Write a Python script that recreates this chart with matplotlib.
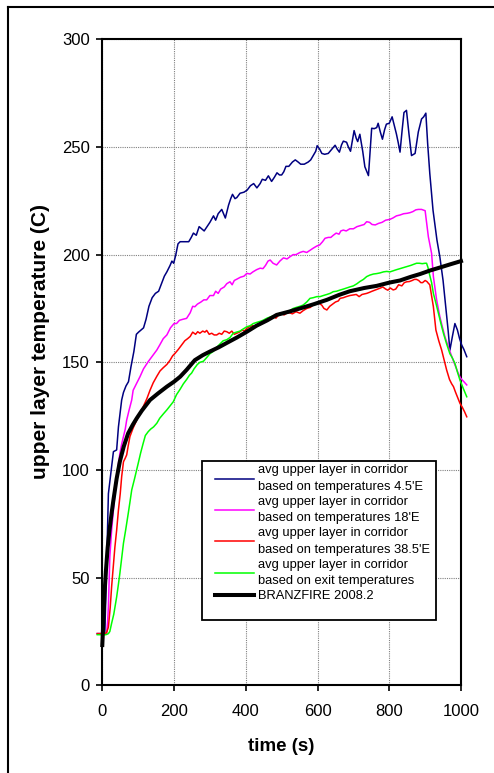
import matplotlib
matplotlib.use("Agg")
import matplotlib.pyplot as plt
from matplotlib.lines import Line2D
from matplotlib.patches import Rectangle

plt.rcParams['font.family'] = ['Liberation Sans', 'DejaVu Sans']

# Upper layer temperature in corridor, probe 4.5'E
t_45 = [-14, 7, 12, 17, 22, 26, 31, 40, 45, 54, 59, 66, 73, 80, 88, 95, 101, 108, 115, 122,
        130, 139, 148, 157, 166, 173, 180, 189, 194, 199, 205, 211, 217, 230, 241, 248, 254, 262,
        270, 277, 284, 292, 300, 310, 316, 323, 333, 338, 343, 352, 358, 363, 370, 375, 384, 395,
        404, 413, 422, 431, 440, 446, 455, 463, 472, 480, 487, 494, 500, 506, 512, 520, 530, 538,
        546, 553, 563, 574, 581, 588, 595, 599, 606, 612, 620, 630, 640, 649, 655, 661, 667, 672,
        681, 686, 692, 702, 708, 712, 718, 726, 732, 742, 751, 758, 765, 769, 775, 781, 787, 792,
        800, 808, 814, 820, 825, 830, 836, 841, 848, 855, 862, 872, 881, 890, 896, 902, 907, 913,
        922, 933, 941, 950, 958, 964, 969, 976, 983, 990, 996, 1002, 1008, 1016]
T_45 = [24, 24, 55, 89, 96, 101.5, 108.5, 109.3, 120, 132.5, 136, 139, 141, 148, 155, 163, 164,
        165, 166, 170, 176, 180, 182, 183, 187, 190, 192, 195, 197, 196, 200, 205, 206, 206, 206,
        208, 210, 209, 213, 212, 211, 213, 215, 218, 216, 219, 221, 219, 217, 223, 226, 228, 226,
        226.5, 228.5, 229, 230, 232, 233, 231, 233, 235, 234.5, 236.6, 234, 236, 238, 237, 237,
        238.5, 241, 241, 243, 244, 243, 242, 242, 243, 244, 246, 248, 250.6, 249, 247, 246.6, 247,
        249, 250.8, 249, 247.6, 251, 252.7, 252.2, 250, 248, 257.6, 254, 252.5, 255.9, 248, 240.8,
        236.7, 258.7, 258.5, 259, 261, 257, 253.6, 258, 260.6, 261, 264, 260, 256, 252, 247.6, 258,
        266, 267, 256, 246, 247, 257, 263, 264, 265.7, 251.7, 237.7, 220.6, 206.7, 199, 188, 175,
        165, 155.6, 162, 168, 165, 161, 158, 156, 152.6]

# Probe 18'E
t_18 = [-14, 8, 12, 15, 17, 21, 26, 31, 36, 40, 45, 49, 54, 59, 64, 68, 75, 82, 86, 95, 105,
        115, 128, 140, 152, 160, 170, 180, 190, 200, 207, 215, 225, 235, 245, 252, 258, 265, 275,
        283, 291, 300, 310, 316, 323, 330, 340, 347, 356, 362, 368, 375, 385, 395, 403, 412, 420,
        430, 440, 448, 455, 462, 468, 476, 486, 495, 505, 515, 523, 532, 540, 551, 560, 570, 579,
        588, 598, 606, 614, 621, 630, 637, 644, 652, 660, 665, 672, 680, 690, 700, 710, 720, 730,
        737, 745, 752, 761, 770, 780, 790, 802, 810, 820, 830, 840, 850, 858, 866, 874, 881, 890,
        900, 909, 918, 923, 932, 941, 948, 955, 963, 971, 978, 985, 992, 999, 1008, 1016]
T_18 = [24, 24, 24, 30, 36.5, 59.7, 72, 81.4, 90, 96.9, 103, 107.7, 112, 115.5, 119, 123.2, 128,
        132.5, 137, 140, 143.3, 147, 150.3, 153, 155.7, 158, 161, 162.7, 166, 168, 168, 169.5,
        170, 170.4, 173, 176, 175.8, 177, 178, 179, 179, 181, 181, 183, 182, 184, 185, 186.5,
        187.4, 186, 188, 188.6, 189.5, 190, 191.3, 191, 192, 193, 193.7, 193.5, 195, 197, 197.5,
        196, 195.2, 197, 198.5, 198, 199, 200, 200, 201, 201.5, 201, 202, 203, 204, 204.5, 206,
        207.6, 208, 208, 209, 210, 209.5, 211, 211.4, 211, 212, 212, 213, 213.5, 214, 215.3, 215,
        214, 213.8, 214.5, 215, 216, 216.4, 217, 218, 218.4, 219, 219.2, 219.5, 220, 220.8, 221,
        221, 220.4, 208.3, 200.6, 189.8, 179, 171.2, 166.5, 162, 158, 154.2, 151, 148, 145, 142.6,
        141, 139.5]

# Probe 38.5'E
t_385 = [-14, 7.5, 12, 17, 22, 26, 30, 35, 40, 45, 50, 54, 59, 64, 68, 72, 77, 86, 96, 105, 114,
         124, 133, 142, 152, 161, 170, 180, 189, 196, 203, 212, 221, 230, 238, 245, 252, 260, 266,
         272, 280, 286, 291, 298, 305, 312, 319, 326, 333, 340, 347, 354, 361, 368, 375, 382, 390,
         396, 403, 410, 418, 425, 432, 440, 447, 455, 462, 470, 477, 484, 492, 500, 507, 514, 522,
         530, 540, 551, 560, 570, 580, 588, 595, 604, 612, 618, 626, 634, 642, 650, 658, 663, 672,
         680, 690, 700, 708, 716, 724, 737, 745, 752, 760, 768, 774, 782, 790, 796, 803, 811, 818,
         826, 835, 842, 849, 856, 864, 870, 876, 882, 888, 893, 900, 905, 909, 913, 918, 923, 930,
         938, 946, 953, 960, 968, 974, 979, 985, 991, 997, 1004, 1010, 1016]
T_385 = [24, 24, 24.5, 27, 36, 45.8, 54, 64, 72, 81.4, 89, 96.9, 103.8, 105.5, 107, 111, 115.5,
         119.5, 123.2, 126.5, 129.4, 133, 137, 140.5, 143.5, 146, 147.5, 149, 151, 153, 154.2, 156,
         158, 160, 161, 162, 164, 163, 164.2, 163.5, 164.5, 164, 164.8, 163, 163.5, 162.7, 162.7,
         163.5, 163, 164.5, 164.2, 163.5, 164.5, 163, 163.5, 164, 165, 164.5, 165.8, 166.5, 167,
         166.5, 167.5, 168, 169, 169, 170.5, 170.5, 171.2, 170.5, 172, 172.5, 172, 172.8, 173,
         172.5, 173.5, 172.8, 174, 175, 175.5, 176.6, 177, 177.5, 176.5, 175, 174.3, 176, 177, 178,
         178.5, 179.7, 180, 180.5, 181, 181.3, 181.5, 180.5, 181.5, 182, 182.5, 183, 183.5, 184,
         184.4, 185, 184, 183.5, 184.5, 183.6, 184, 186, 185.5, 187, 187.4, 187.5, 188, 188.5,
         188.5, 188, 187, 187, 188, 187.5, 186.7, 186, 181, 175.8, 165, 160, 155.7, 151, 146.4, 142,
         140, 138.7, 136, 133.5, 131, 129, 127, 124.7]

# Exit probe
t_exit = [-14, 10, 17, 21, 26, 32, 40, 45, 49, 54, 59, 65, 72.5, 77, 82, 90, 100, 107, 114, 120,
          128, 135, 143, 152, 160, 170, 180, 190, 198, 207, 217, 226, 235, 243, 249, 256, 265, 272,
          282, 290, 300, 309, 319, 328, 337, 347, 356, 365, 374, 384, 393, 403, 412, 421, 430, 440,
          448, 458, 467, 476, 485, 495, 505, 514, 523, 532, 541, 551, 560, 570, 579, 588, 598, 607,
          616, 626, 635, 644, 653, 662, 672, 681, 690, 700, 710, 718, 728, 737, 746, 756, 765, 774,
          784, 793, 802, 811, 820, 830, 840, 850, 860, 868, 876, 884, 892, 900, 904, 908, 912, 918,
          923, 930, 937, 944, 951, 960, 969, 976, 983, 990, 997, 1006, 1016]
T_exit = [23.5, 23.5, 24, 25, 28.8, 33, 41, 47, 52, 59, 66, 72, 80, 85, 90.7, 96, 103, 108,
          112.4, 116, 117.8, 119, 120, 121.7, 124, 126, 127.9, 130, 131.7, 135, 137.5, 140, 142,
          144, 145, 147, 149, 150, 150.5, 152, 154, 155, 157, 158.5, 160, 160.5, 161.5, 163.5, 164,
          164.5, 165.5, 166.5, 167, 168, 168.5, 169, 169.5, 170.4, 171, 171.5, 172, 172.8, 173,
          173.5, 174, 175, 175.5, 176, 176.6, 178, 179.7, 180, 180.5, 180.5, 181, 181.5, 182,
          182.8, 183, 183.5, 184, 184.5, 185, 185.5, 186.5, 187.5, 188.5, 189.8, 190.5, 191, 191.2,
          191.5, 192, 192.2, 192, 192.5, 193, 193.5, 194, 194.5, 195, 195.5, 196, 196, 195.8, 196,
          196, 194, 191, 187, 182, 177.5, 172.8, 168, 163.5, 158.5, 154, 152, 149.5, 145.5, 141.8,
          138, 134]

# BRANZFIRE 2008.2 model prediction
t_bf = [0, 3, 6, 10, 15, 20, 26, 31, 40, 49, 60, 72, 85, 96, 110, 133, 155, 180, 200, 217, 235,
        258, 280, 300, 325, 347, 375, 403, 430, 460, 486, 520, 551, 590, 626, 660, 690, 730, 765,
        800, 830, 860, 886, 915, 941, 970, 1000]
T_bf = [18.7, 30, 42, 53, 64, 72, 80, 86, 96, 104, 111, 117, 121, 124, 127.5, 132.5, 135.5,
        138.7, 141, 143.3, 146.5, 151, 153.3, 155, 157, 159, 161.5, 164.2, 167, 169.5, 172, 173.5,
        175, 177, 179, 181.3, 183, 184.5, 185.5, 187, 188, 189.7, 191, 192.7, 194, 195.5, 197]

labels = [
    "avg upper layer in corridor\nbased on temperatures 4.5'E",
    "avg upper layer in corridor\nbased on temperatures 18'E",
    "avg upper layer in corridor\nbased on temperatures 38.5'E",
    "avg upper layer in corridor\nbased on exit temperatures",
    "BRANZFIRE 2008.2",
]

W, H = 494, 773
fig = plt.figure(figsize=(W / 100, H / 100), dpi=100)
ax = fig.add_axes([102.3 / W, 1 - 685.3 / H, (461 - 102.3) / W, (685.3 - 39.3) / H])

series = [
    (t_45, T_45, '#000080', 1.1),
    (t_18, T_18, '#FF00FF', 1.1),
    (t_385, T_385, '#FF0000', 1.1),
    (t_exit, T_exit, '#00FF00', 1.1),
    (t_bf, T_bf, '#000000', 2.9),
]
handles = []
for (tx, ty, c, lw), lab in zip(series, labels):
    h, = ax.plot(tx, ty, color=c, lw=lw, clip_on=False, label=lab, zorder=3,
                 solid_joinstyle='round')
    handles.append(h)

ax.set_xlim(0, 1000)
ax.set_ylim(0, 300)
ax.set_xticks(range(0, 1001, 200))
ax.set_yticks(range(0, 301, 50))
ax.grid(True, color='#808080', linestyle=(0, (1, 1)), linewidth=0.8)
ax.set_axisbelow(True)
for s in ax.spines.values():
    s.set_linewidth(1.5)
ax.tick_params(direction='out', length=4, width=1.2, labelsize=12)
ax.tick_params(axis='x', pad=9.5)
ax.tick_params(axis='y', pad=5)

ax.set_xlabel('time (s)', fontsize=13.5, fontweight='bold', labelpad=14)
ax.set_ylabel('upper layer temperature (C)', fontsize=15, fontweight='bold', va='center')
ax.yaxis.set_label_coords((40.7 - 102.3) / 358.7, 1 - (341.5 - 39.3) / 646)

# Legend panel
fig.patches.append(Rectangle((202 / W, 1 - 620 / H), 234 / W, 159 / H,
                             transform=fig.transFigure, facecolor='white',
                             edgecolor='black', lw=1.3, zorder=5))
leg = fig.legend(handles=handles, loc='upper left',
                 bbox_to_anchor=(211 / W, 1 - 460.5 / H), frameon=False,
                 fontsize=9.3, labelspacing=0.24, handlelength=3.0,
                 handletextpad=0.35, borderpad=0.3, borderaxespad=0)
leg.set_zorder(6)
for txt in leg.get_texts():
    txt.set_linespacing(1.48)
for lh, lw in zip(leg.get_lines(), [1.1, 1.1, 1.1, 1.1, 2.9]):
    lh.set_linewidth(lw)

# Outer chart border
fig.add_artist(Line2D([7.5 / W, 7.5 / W], [0, 1 - 6.5 / H], color='black', lw=1.5,
                      transform=fig.transFigure))
fig.add_artist(Line2D([7.5 / W, 1], [1 - 6.5 / H, 1 - 6.5 / H], color='black', lw=1.5,
                      transform=fig.transFigure))

fig.savefig('out.png', dpi=100)
